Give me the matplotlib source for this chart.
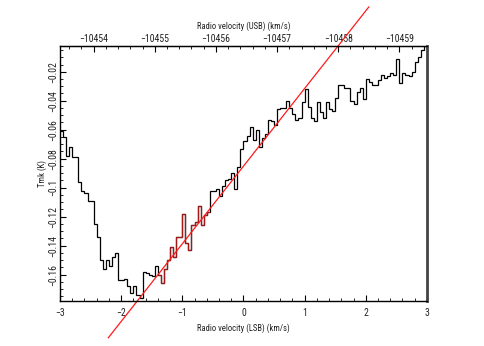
import numpy as np
import matplotlib
matplotlib.use("Agg")
import matplotlib.pyplot as plt
from matplotlib import font_manager
from matplotlib.ticker import MultipleLocator, FuncFormatter

# narrow face if one is installed, else Liberation Sans a bit smaller
_names = {f.name for f in font_manager.fontManager.ttflist}
if "Roboto Condensed" in _names:
    plt.rcParams["font.family"] = ["Roboto Condensed", "DejaVu Sans"]
    TICK_FS, LABEL_FS = 7, 6.2
else:
    plt.rcParams["font.family"] = ["Liberation Sans", "DejaVu Sans"]
    TICK_FS, LABEL_FS = 6.5, 5.6
TXT = "#222222"

# channel grid (LSB radio velocity, km/s)
v_start, dv, n_chan = -3.0, 0.05, 120
edges = v_start + dv * np.arange(n_chan + 1)

# Tmk (K) per channel
tmk = [
    -0.061, -0.065, -0.078, -0.072, -0.079, -0.079, -0.096, -0.102, -0.104, -0.109,
    -0.109, -0.125, -0.134, -0.150, -0.156, -0.150, -0.154, -0.148, -0.145, -0.164,
    -0.164, -0.163, -0.168, -0.173, -0.168, -0.174, -0.176, -0.158, -0.159, -0.160,
    -0.161, -0.154, -0.160, -0.166, -0.156, -0.150, -0.141, -0.148, -0.134, -0.134,
    -0.118, -0.138, -0.143, -0.126, -0.124, -0.113, -0.126, -0.119, -0.117, -0.102,
    -0.102, -0.101, -0.106, -0.099, -0.095, -0.094, -0.090, -0.101, -0.086, -0.073,
    -0.068, -0.064, -0.058, -0.067, -0.060, -0.072, -0.066, -0.063, -0.053, -0.054,
    -0.057, -0.046, -0.045, -0.045, -0.040, -0.045, -0.049, -0.053, -0.052, -0.041,
    -0.032, -0.044, -0.052, -0.054, -0.041, -0.048, -0.052, -0.041, -0.046, -0.047,
    -0.038, -0.029, -0.029, -0.031, -0.031, -0.040, -0.042, -0.034, -0.031, -0.039,
    -0.025, -0.027, -0.029, -0.029, -0.026, -0.022, -0.024, -0.023, -0.021, -0.022,
    -0.011, -0.028, -0.021, -0.022, -0.023, -0.020, -0.013, -0.010, -0.005, -0.002,
]
tmk = np.array(tmk)

# channels highlighted in red (fit window)
win_lo, win_hi = 32, 49

# baseline fit line end points
fit_v = [-2.21, 2.05]
fit_t = [-0.2036, 0.0247]

USB_OFF = 10456.45


def lsb2usb(x):
    return -(x + USB_OFF)


def usb2lsb(u):
    return -u - USB_OFF


def fmt(x, pos):
    return ("%g" % round(x, 4)).replace("-", "\u2212")


fig = plt.figure(figsize=(4.84, 3.46), dpi=100)
ax = fig.add_axes([0.124, 0.131, 0.758, 0.737])

ax.stairs(tmk, edges, baseline=None, color="black", lw=0.9)
ax.stairs(tmk[win_lo:win_hi], edges[win_lo:win_hi + 1], baseline=None,
          color="#a01818", lw=0.9)
ax.plot(fit_v, fit_t, color="#ff1a1a", lw=0.9, clip_on=False)

ax.set_xlim(-3, 3)
ax.set_ylim(-0.178, -0.002)

ax.xaxis.set_major_locator(MultipleLocator(1))
ax.xaxis.set_minor_locator(MultipleLocator(0.2))
ax.yaxis.set_major_locator(MultipleLocator(0.02))
ax.yaxis.set_minor_locator(MultipleLocator(0.005))
ax.xaxis.set_major_formatter(FuncFormatter(fmt))
ax.yaxis.set_major_formatter(FuncFormatter(fmt))
ax.tick_params(which="both", direction="in", top=False, right=False,
               labelsize=TICK_FS, labelcolor=TXT)
ax.tick_params(which="major", length=4, width=0.8)
ax.tick_params(which="minor", length=2, width=0.6)
ax.tick_params(axis="x", pad=5.5)
ax.tick_params(axis="y", pad=1.0)
for lab in ax.get_yticklabels():
    lab.set_rotation(90)
    lab.set_va("center")

for s in ["left", "bottom", "top"]:
    ax.spines[s].set_linewidth(1.0)
ax.spines["right"].set_linewidth(2.0)
ax.spines["right"].set_color("#444444")

ax.set_xlabel("Radio velocity (LSB) (km/s)", fontsize=LABEL_FS, color=TXT,
              labelpad=4)
ax.set_ylabel("Tmk (K)", fontsize=LABEL_FS, color=TXT, labelpad=1)

sec = ax.secondary_xaxis("top", functions=(lsb2usb, usb2lsb))
sec.xaxis.set_major_locator(MultipleLocator(1))
sec.xaxis.set_minor_locator(MultipleLocator(0.2))
sec.xaxis.set_major_formatter(FuncFormatter(fmt))
sec.tick_params(which="both", direction="in", pad=1.0, labelsize=TICK_FS,
                labelcolor=TXT)
sec.tick_params(which="major", length=4, width=0.8)
sec.tick_params(which="minor", length=2, width=0.6)
sec.set_xlabel("Radio velocity (USB) (km/s)", fontsize=LABEL_FS, color=TXT,
               labelpad=4)

fig.savefig("out.png", dpi=100)
